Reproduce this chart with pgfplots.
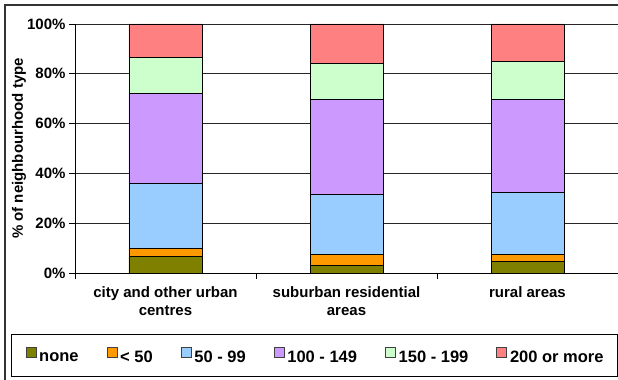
\documentclass[border=0pt]{standalone}
\usepackage{pgfplots}
\pgfplotsset{compat=1.18}
\usepackage{fontspec}
\setmainfont{Liberation Sans}

\definecolor{cNone}{HTML}{808000}
\definecolor{cLt50}{HTML}{FF9900}
\definecolor{cFifty}{HTML}{99CCFF}
\definecolor{cHundred}{HTML}{CC99FF}
\definecolor{cOneFifty}{HTML}{CCFFCC}
\definecolor{cTwoHundred}{HTML}{FF8080}

% share of each neighbourhood type (0 = city, 1 = suburban, 2 = rural)
\pgfplotstableread{
x  none  lt50  f50  h100  h150  h200
0  6.7   3.1   26.2 36.0  14.7  13.3
1  3.1   4.5   24.0 38.0  14.6  15.8
2  4.7   2.9   24.8 37.2  15.4  15.0
}\shares

\begin{document}
\begin{tikzpicture}
\useasboundingbox (-75bp,-107bp) rectangle (543bp,273bp);
% chart frame and legend box
\draw[line width=1.6bp, black!80] (-70bp,-130bp) -- (-70bp,268bp) -- (560bp,268bp);
\draw[line width=0.8bp, black] (-64bp,-61bp) rectangle (542bp,-103bp);
\begin{axis}[
  scale only axis, width=543bp, height=249bp,
  ybar stacked, bar width=73bp,
  xmin=-0.5, xmax=2.5, ymin=0, ymax=100,
  axis x line*=bottom, axis y line*=left,
  axis line style={line width=0.8bp, black},
  tick align=outside,
  major tick length=6bp, minor tick length=6bp,
  tick style={line width=0.8bp, black},
  xtick={0,1,2},
  xticklabels={{city and other urban\\centres},{suburban residential\\areas},{rural areas}},
  major x tick style={draw=none},
  minor xtick={-0.5,0.5,1.5,2.5},
  ytick={0,20,40,60,80,100},
  yticklabel={\pgfmathprintnumber{\tick}\%},
  /pgf/number format/assume math mode=true,
  ymajorgrids,
  grid style={line width=0.8bp, black!85},
  ticklabel style={font=\fontsize{15bp}{18bp}\selectfont\bfseries},
  xticklabel style={align=center, yshift=-4bp},
  ylabel={\% of neighbourhood type},
  ylabel style={font=\fontsize{15bp}{18bp}\selectfont\bfseries,
    at={(axis description cs:-0.103,0.5)}, anchor=center},
  legend columns=6,
  legend style={draw=none, fill=none,
    font=\fontsize{16.5bp}{18bp}\selectfont\bfseries,
    at={(axis description cs:0.444,-0.335)}, anchor=center,
    /tikz/every even column/.append style={column sep=25bp},
    nodes={inner xsep=3bp}},
  legend image code/.code={\draw[#1, draw=black!75, line width=0.6bp] (0bp,0bp) rectangle (10bp,10bp);},
  every axis plot/.append style={draw=black, line width=0.8bp},
]
\addplot[fill=cNone] table[x=x,y=none] {\shares};
\addplot[fill=cLt50] table[x=x,y=lt50] {\shares};
\addplot[fill=cFifty] table[x=x,y=f50] {\shares};
\addplot[fill=cHundred] table[x=x,y=h100] {\shares};
\addplot[fill=cOneFifty] table[x=x,y=h150] {\shares};
\addplot[fill=cTwoHundred] table[x=x,y=h200] {\shares};
\legend{none,{< 50},50 - 99,100 - 149,150 - 199,200 or more}
\end{axis}
\end{tikzpicture}
\end{document}
